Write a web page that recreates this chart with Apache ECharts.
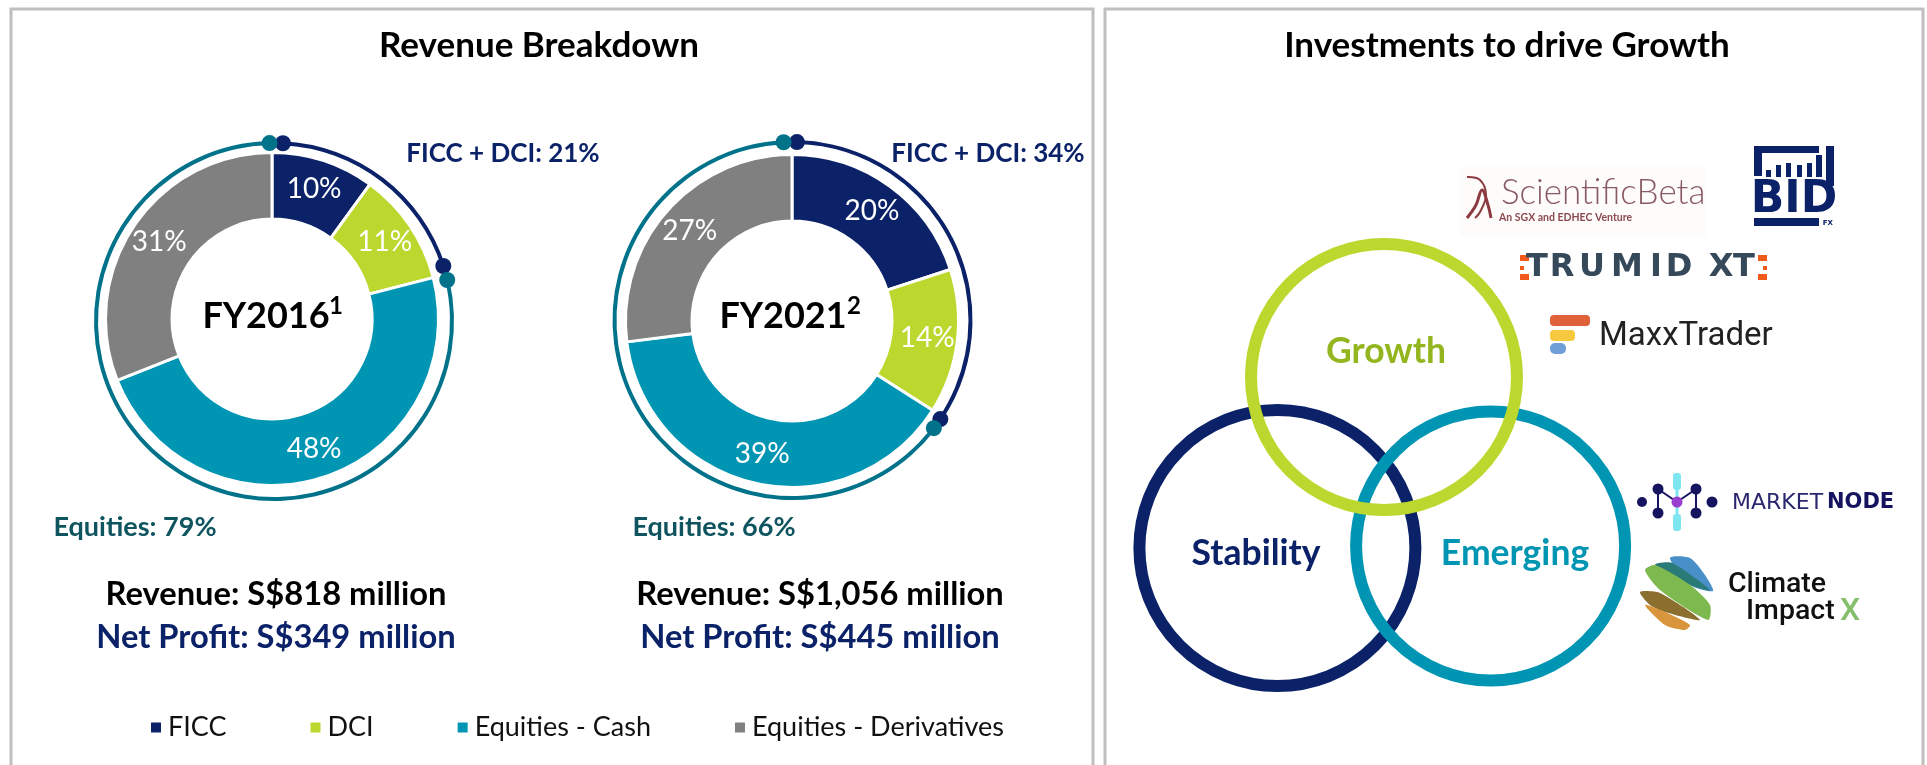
<!DOCTYPE html>
<html>
<head>
<meta charset="utf-8">
<style>html,body{margin:0;padding:0;background:#fff;overflow:hidden}#c{width:1927px;height:765px}</style>
<script src="https://cdn.jsdelivr.net/npm/echarts@6/dist/echarts.min.js"></script>
</head>
<body>
<div id="c"></div>
<script>
const segmentNames = ['FICC', 'DCI', 'Equities - Cash', 'Equities - Derivatives'];
const segmentColors = ['#0b2269', '#bcd82f', '#0095b3', '#808080'];
const fy2016Shares = [10, 11, 48, 31];
const fy2021Shares = [20, 14, 39, 27];
// outer bracket arcs, in percent of a full turn [start, end]
const ficcDciArc2016 = [0.8, 20];
const equitiesArc2016 = [21.3, 99.6];
const ficcDciArc2021 = [0.4, 34.4];
const equitiesArc2021 = [35.4, 99.2];
const navy = '#0b2269', ringTeal = '#00728a';

const FONT = 'Lato, sans-serif';
const chart = echarts.init(document.getElementById('c'), null, {renderer: 'canvas'});

function donut(name, values, center) {
  return {
    type: 'pie', name, center, radius: [100, 166.5], startAngle: 90, silent: true,
    itemStyle: {borderColor: '#fff', borderWidth: 3},
    label: {show: true, position: 'inside', formatter: '{c}%', color: '#fff', fontFamily: FONT, fontSize: 28},
    labelLine: {show: false},
    data: values.map((v, i) => ({name: segmentNames[i], value: v, itemStyle: {color: segmentColors[i]}}))
  };
}
function ringArc(arc, color, center) {
  return {
    type: 'pie', center, radius: [176, 180], startAngle: 90, silent: true, z: 3,
    label: {show: false}, labelLine: {show: false}, itemStyle: {borderWidth: 0},
    data: [
      {name: 'gapA', value: arc[0], itemStyle: {color: 'rgba(0,0,0,0)'}},
      {name: 'arc', value: arc[1] - arc[0], itemStyle: {color}},
      {name: 'gapB', value: 100 - arc[1], itemStyle: {color: 'rgba(0,0,0,0)'}}
    ]
  };
}
function dots(arc, color, polarIndex) {
  return {
    type: 'scatter', coordinateSystem: 'polar', polarIndex, symbol: 'circle', symbolSize: 16, silent: true, z: 5,
    itemStyle: {color, opacity: 1},
    data: [[1, arc[0]], [1, arc[1]]]
  };
}

// ---- graphic helpers
const T = (text, x, y, size, fill, weight, align, family) => ({
  type: 'text', z: 20, silent: true,
  style: {text, x, y, fill, font: `${weight || 'normal'} ${size}px ${family || FONT}`, align: align || 'center', verticalAlign: 'middle'}
});
const R = (x, y, width, height, fill, r) => ({type: 'rect', z: 15, silent: true, shape: {x, y, width, height, r: r || 0}, style: {fill}});
const C = (cx, cy, r, stroke, lineWidth, z) => ({type: 'circle', z: z, silent: true, shape: {cx, cy, r}, style: {fill: 'none', stroke, lineWidth}});
const D = (cx, cy, r, fill) => ({type: 'circle', z: 16, silent: true, shape: {cx, cy, r}, style: {fill}});
const L = (x1, y1, x2, y2, stroke, lineWidth) => ({type: 'line', z: 15, silent: true, shape: {x1, y1, x2, y2}, style: {stroke, lineWidth}});
const P = (points, fill) => ({type: 'polygon', z: 16, silent: true, shape: {points, smooth: 0.25}, style: {fill}});
const PL = (points, stroke, lineWidth) => ({type: 'polyline', z: 16, silent: true, shape: {points, smooth: 0.4}, style: {stroke, lineWidth, fill: 'none'}});

const panels = [
  {type: 'rect', z: 1, silent: true, shape: {x: 11, y: 9, width: 1082, height: 780}, style: {fill: '#fff', stroke: '#bfbfbf', lineWidth: 3}},
  {type: 'rect', z: 1, silent: true, shape: {x: 1105, y: 9, width: 818, height: 780}, style: {fill: '#fff', stroke: '#bfbfbf', lineWidth: 3}}
];
const texts = [
  T('Revenue Breakdown', 539, 46, 35, '#000', 'bold'),
  T('Investments to drive Growth', 1507, 46, 35, '#000', 'bold'),
  T('FICC + DCI: 21%', 503, 154, 26, navy, 'bold'),
  T('FICC + DCI: 34%', 988, 154, 26, navy, 'bold'),
  T('Equities: 79%', 135, 527, 27, '#0f5560', 'bold'),
  T('Equities: 66%', 714, 527, 27, '#0f5560', 'bold'),
  T('FY2016', 266, 316, 36, '#000', 'bold'),
  T('1', 329, 306, 24, '#000', 'bold', 'left'),
  T('FY2021', 783, 316, 36, '#000', 'bold'),
  T('2', 847, 306, 24, '#000', 'bold', 'left'),
  T('Revenue: S$818 million', 276, 594, 32.7, '#000', 'bold'),
  T('Net Profit: S$349 million', 276, 637, 32.7, navy, 'bold'),
  T('Revenue: S$1,056 million', 820, 594, 32.7, '#000', 'bold'),
  T('Net Profit: S$445 million', 820, 637, 32.7, navy, 'bold')
];
const venn = [
  C(1277.4, 548, 138, navy, 12, 6),
  C(1490.6, 546, 134.5, '#0095b3', 12, 7),
  C(1384, 377, 133, '#bcd82f', 12, 8),
  T('Growth', 1386, 352, 35.5, '#93b51e', 'bold'),
  T('Stability', 1256, 554, 35.5, navy, 'bold'),
  T('Emerging', 1515, 554, 35.5, '#0095b3', 'bold')
];
const trumidLetters = [['T', 1537], ['R', 1562], ['U', 1592], ['M', 1627], ['I', 1656], ['D', 1679], ['X', 1721], ['T', 1744]];
const logos = [
  // Scientific Beta
  R(1460, 167, 246, 70, '#fefbfb'),
  PL([[1467, 177], [1480, 180], [1486, 195], [1480, 212], [1475, 218]], '#8c3a40', 2),
  PL([[1467, 218], [1476, 205], [1482, 190], [1488, 205], [1491, 218]], '#8c3a40', 3),
  T('ScientificBeta', 1501, 193, 35, '#8a5a62', '300', 'left', 'Lato, sans-serif'),
  T('An SGX and EDHEC Venture', 1499, 218, 10.5, '#8c4a50', 'bold', 'left', 'Lato, sans-serif'),
  // BID FX
  R(1754, 146, 65, 7, navy), R(1754, 146, 8, 30, navy), R(1826, 146, 8, 40, navy),
  R(1766, 170, 5, 7, navy), R(1776, 165, 5, 12, navy), R(1786, 163, 5, 14, navy), R(1797, 165, 5, 12, navy), R(1807, 163, 5, 14, navy), R(1816, 155, 6, 22, navy),
  T('BID', 1794, 201, 44, navy, 'bold', 'center', '"DejaVu Sans"'),
  R(1754, 218, 65, 8, navy),
  T('FX', 1833, 223, 7, navy, 'bold', 'right', '"DejaVu Sans"'),
  // Trumid XT
  R(1520, 255, 9, 6, '#f05a1a'), R(1520, 266, 4, 4, '#f05a1a'), R(1520, 274, 9, 6, '#f05a1a'),
  R(1758, 255, 9, 6, '#f05a1a'), R(1763, 266, 4, 4, '#f05a1a'), R(1758, 274, 9, 6, '#f05a1a')
].concat(trumidLetters.map(l => T(l[0], l[1], 268, 32, '#35495a', 'bold', 'center', '"DejaVu Sans"')), [
  // MaxxTrader
  R(1550, 315, 40, 11, '#e0603a', 4), R(1550, 330, 25, 11, '#f6c93f', 4), R(1550, 343, 16, 11, '#6f9fd6', 5),
  T('MaxxTrader', 1599, 337, 33, '#222', 'normal', 'left', 'Roboto, sans-serif'),
  // Market Node
  R(1673, 473, 8, 17, '#7de6ee', 3), R(1673, 514, 8, 17, '#7de6ee', 3), R(1675.5, 488, 3, 28, '#7de6ee'),
  L(1658, 489, 1658, 513, '#16135f', 2), L(1696, 489, 1696, 513, '#16135f', 2),
  L(1658, 489, 1677, 502, '#16135f', 2), L(1696, 489, 1677, 502, '#16135f', 2),
  D(1642, 502, 5, '#16135f'), D(1658, 489, 5.5, '#16135f'), D(1696, 489, 5.5, '#16135f'),
  D(1658, 513, 5.5, '#16135f'), D(1696, 513, 5.5, '#16135f'), D(1712, 502, 5.5, '#16135f'), D(1677, 502, 5.5, '#9a3fd0'),
  T('MARKET', 1732, 503, 22, '#2a2770', 'normal', 'left', '"DejaVu Sans"'),
  T('NODE', 1827, 503, 21, '#16135f', 'bold', 'left', '"DejaVu Sans"'),
  // Climate Impact X
  P([[1670, 558], [1690, 558], [1705, 575], [1713, 591], [1690, 585]], '#4a90c8'),
  P([[1655, 565], [1672, 563], [1710, 590], [1690, 585]], '#2a7a78'),
  P([[1645, 570], [1655, 565], [1690, 585], [1710, 605], [1708, 620], [1660, 590]], '#7db94e'),
  P([[1640, 592], [1660, 593], [1700, 620], [1665, 612], [1650, 605]], '#8a6f2e'),
  P([[1645, 605], [1665, 612], [1690, 625], [1685, 630], [1665, 625]], '#d8953c'),
  T('Climate', 1728, 585, 28.5, '#111', '500', 'left', 'Roboto, sans-serif'),
  T('Impact', 1746, 612, 28.5, '#111', '500', 'left', 'Roboto, sans-serif'),
  T('X', 1840, 612, 32, '#85bf6b', '500', 'left', 'Roboto, sans-serif')
]);

const hiddenAngle = {type: 'value', min: 0, max: 100, startAngle: 90, clockwise: true, show: false};
const hiddenRadius = {type: 'value', min: 0, max: 1, show: false};

chart.setOption({
  animation: false,
  backgroundColor: '#fff',
  legend: {
    data: segmentNames, left: 144, top: 709, icon: 'rect', itemWidth: 12, itemHeight: 12, itemGap: 82,
    selectedMode: false, textStyle: {fontFamily: FONT, fontSize: 27, color: '#111', padding: [0, 0, 0, 1]}
  },
  polar: [
    {center: [274, 321], radius: 178},
    {center: [792.5, 320], radius: 178}
  ],
  angleAxis: [Object.assign({polarIndex: 0}, hiddenAngle), Object.assign({polarIndex: 1}, hiddenAngle)],
  radiusAxis: [Object.assign({polarIndex: 0}, hiddenRadius), Object.assign({polarIndex: 1}, hiddenRadius)],
  series: [
    donut('FY2016', fy2016Shares, [272, 319]),
    donut('FY2021', fy2021Shares, [792, 321]),
    ringArc(ficcDciArc2016, navy, [274, 321]),
    ringArc(equitiesArc2016, ringTeal, [274, 321]),
    ringArc(ficcDciArc2021, navy, [792.5, 320]),
    ringArc(equitiesArc2021, ringTeal, [792.5, 320]),
    dots(ficcDciArc2016, navy, 0),
    dots(equitiesArc2016, ringTeal, 0),
    dots(ficcDciArc2021, navy, 1),
    dots(equitiesArc2021, ringTeal, 1)
  ],
  graphic: {elements: [].concat(panels, texts, venn, logos)}
});
</script>
</body>
</html>
